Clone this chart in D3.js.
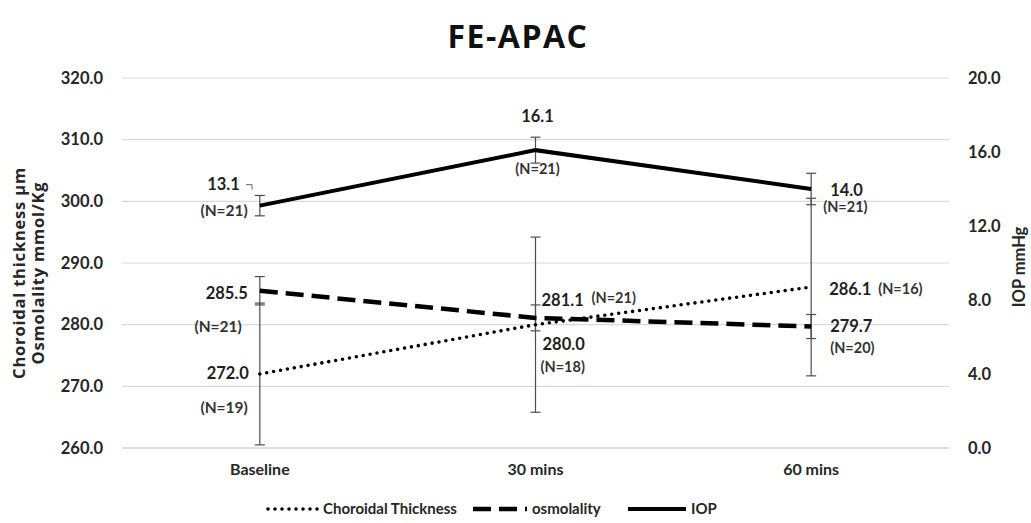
<!DOCTYPE html>
<html>
<head>
<meta charset="utf-8">
<script src="https://cdn.jsdelivr.net/npm/d3@7"></script>
<style>
  body { margin: 0; background: #fff; }
  svg { display: block; font-family: Lato, "DejaVu Sans", sans-serif; }
</style>
</head>
<body>
<div id="chart"></div>
<script>
var width = 1031,
    height = 523;

// data
var categories = ["Baseline", "30 mins", "60 mins"];

var choroidal = [272.0, 280.0, 286.1],
    choroidalErr = [11.5, 14.2, 14.4],
    choroidalN = [19, 18, 16];

var osmolality = [285.5, 281.1, 279.7],
    osmolalityErr = [2.3, 2.1, 1.95],
    osmolalityN = [21, 21, 20];

var iop = [13.1, 16.1, 14.0],
    iopErr = [0.55, 0.7, 0.85],
    iopN = [21, 21, 21];

var leftTicks = [260, 270, 280, 290, 300, 310, 320],
    rightTicks = [0, 4, 8, 12, 16, 20];

var plot = { left: 122, right: 949, top: 78, bottom: 448 };

var svg = d3.select("#chart").append("svg")
    .attr("width", width)
    .attr("height", height);

var x = d3.scaleBand().domain(categories).range([plot.left, plot.right]);
var yL = d3.scaleLinear().domain([260, 320]).range([plot.bottom, plot.top]);
var yR = d3.scaleLinear().domain([0, 20]).range([plot.bottom, plot.top]);

function cx(i) { return x(categories[i]) + x.bandwidth() / 2; }

// Title
svg.append("text")
    .attr("x", 518).attr("y", 48)
    .attr("text-anchor", "middle")
    .style("font-family", "'Open Sans', sans-serif")
    .style("font-size", "32px").style("font-weight", "bold")
    .style("letter-spacing", "1.5px")
    .style("fill", "#111")
    .text("FE-APAC");

// gridlines (left axis)
svg.append("g").selectAll("line")
    .data(leftTicks).enter().append("line")
    .attr("x1", plot.left).attr("x2", plot.right)
    .attr("y1", function(d) { return yL(d); })
    .attr("y2", function(d) { return yL(d); })
    .style("stroke", function(d) { return d === 260 ? "#bfbfbf" : "#d9d9d9"; })
    .style("stroke-width", 1.2);

// left tick labels
svg.append("g").selectAll("text")
    .data(leftTicks).enter().append("text")
    .attr("x", 103).attr("y", function(d) { return yL(d); })
    .attr("dy", "0.35em").attr("text-anchor", "end")
    .style("font-size", "16.5px").style("font-weight", "bold").style("fill", "#262626")
    .text(function(d) { return d.toFixed(1); });

// right tick labels
svg.append("g").selectAll("text")
    .data(rightTicks).enter().append("text")
    .attr("x", 968).attr("y", function(d) { return yR(d); })
    .attr("dy", "0.35em").attr("text-anchor", "start")
    .style("font-size", "16.5px").style("font-weight", "bold").style("fill", "#262626")
    .text(function(d) { return d.toFixed(1); });

// category labels
svg.append("g").selectAll("text")
    .data(categories).enter().append("text")
    .attr("x", function(d) { return x(d) + x.bandwidth() / 2; })
    .attr("y", 475).attr("text-anchor", "middle")
    .style("font-size", "16px").style("font-weight", "bold").style("fill", "#262626")
    .text(function(d) { return d; });

// axis titles
var leftTitle = svg.append("text")
    .attr("transform", "translate(25,273) rotate(-90)")
    .attr("text-anchor", "middle")
    .style("font-family", "'Open Sans', sans-serif")
    .style("font-size", "16.5px").style("font-weight", "bold")
    .style("letter-spacing", "0.8px").style("fill", "#262626");
leftTitle.append("tspan").attr("x", 0).attr("dy", 0).text("Choroidal thickness µm");
leftTitle.append("tspan").attr("x", 0).attr("dy", 19).text("Osmolality mmol/Kg");

svg.append("text")
    .attr("transform", "translate(1025,267) rotate(-90)")
    .attr("text-anchor", "middle")
    .style("font-size", "16.5px").style("font-weight", "bold").style("fill", "#262626")
    .text("IOP mmHg");

// series
var series = [
  { values: choroidal, err: choroidalErr, n: choroidalN, y: yL,
    width: 3.6, dash: "0,7", cap: "round" },
  { values: osmolality, err: osmolalityErr, n: osmolalityN, y: yL,
    width: 4.5, dash: "18,8", cap: "butt" },
  { values: iop, err: iopErr, n: iopN, y: yR,
    width: 4, dash: null, cap: "butt" }
];

// error bars
series.forEach(function(s) {
  var g = svg.append("g").style("stroke", "#4d4d4d").style("stroke-width", 1.2);
  s.values.forEach(function(v, i) {
    var top = s.y(v + s.err[i]), bot = s.y(v - s.err[i]), xc = cx(i);
    g.append("line").attr("x1", xc).attr("x2", xc).attr("y1", top).attr("y2", bot);
    g.append("line").attr("x1", xc - 5).attr("x2", xc + 5).attr("y1", top).attr("y2", top);
    g.append("line").attr("x1", xc - 5).attr("x2", xc + 5).attr("y1", bot).attr("y2", bot);
  });
});

// lines
series.forEach(function(s) {
  var line = d3.line()
      .x(function(d, i) { return cx(i); })
      .y(function(d) { return s.y(d); });
  svg.append("path")
      .datum(s.values)
      .attr("d", line)
      .style("fill", "none")
      .style("stroke", "#000")
      .style("stroke-width", s.width)
      .style("stroke-linecap", s.cap)
      .style("stroke-dasharray", s.dash);
});

// value + N labels: offsets from each point [dx, dy, anchor, size] for value, then for N
var labelLayout = [
  [ [-11, -1, "end", 16.5], [-12, 34, "end", 15.5],  [7, 20, "start", 16.5],  [5, 42, "start", 14.5],
    [18, 2, "start", 16.5], [67, 2, "start", 14.5] ],
  [ [-12, 2, "end", 16.5],  [-18, 36, "end", 15.5],  [6, -18, "start", 16.5], [56, -20, "start", 14.5],
    [19, 0, "start", 16.5], [19, 21, "start", 14.5] ],
  [ [-20, -21, "end", 16.5], [-12, 5, "end", 15.5],  [2, -34, "middle", 16.5], [2, 19, "middle", 14.5],
    [19, 1, "start", 16.5], [12, 18, "start", 14.5] ]
];

series.forEach(function(s, si) {
  s.values.forEach(function(v, i) {
    var xc = cx(i), yc = s.y(v);
    var lv = labelLayout[si][i * 2], ln = labelLayout[si][i * 2 + 1];
    svg.append("text")
        .attr("x", xc + lv[0]).attr("y", yc + lv[1]).attr("dy", "0.35em")
        .attr("text-anchor", lv[2])
        .style("font-size", lv[3] + "px").style("font-weight", "bold").style("fill", "#1f1f1f")
        .text(v.toFixed(1));
    svg.append("text")
        .attr("x", xc + ln[0]).attr("y", yc + ln[1]).attr("dy", "0.35em")
        .attr("text-anchor", ln[2])
        .style("font-size", ln[3] + "px").style("font-weight", "bold").style("fill", "#333")
        .text("(N=" + s.n[i] + ")");
  });
});

// little leader tick beside the baseline IOP value
svg.append("path")
    .attr("d", "M246," + (yR(iop[0]) - 21) + "h6v5")
    .style("fill", "none").style("stroke", "#666").style("stroke-width", 1);

// legend
var legendItems = [
  { label: "Choroidal Thickness", x: 268, w: 50, s: series[0] },
  { label: "osmolality", x: 473, w: 54, s: series[1] },
  { label: "IOP", x: 628, w: 58, s: series[2] }
];
var legend = svg.append("g");
legendItems.forEach(function(d) {
  legend.append("line")
      .attr("x1", d.x).attr("x2", d.x + d.w).attr("y1", 509).attr("y2", 509)
      .style("stroke", "#000")
      .style("stroke-width", d.s.width)
      .style("stroke-linecap", d.s.cap)
      .style("stroke-dasharray", d.s.dash);
  legend.append("text")
      .attr("x", d.x + d.w + 5).attr("y", 509).attr("dy", "0.35em")
      .style("font-size", "15px").style("font-weight", "bold").style("fill", "#262626")
      .text(d.label);
});
</script>
</body>
</html>
